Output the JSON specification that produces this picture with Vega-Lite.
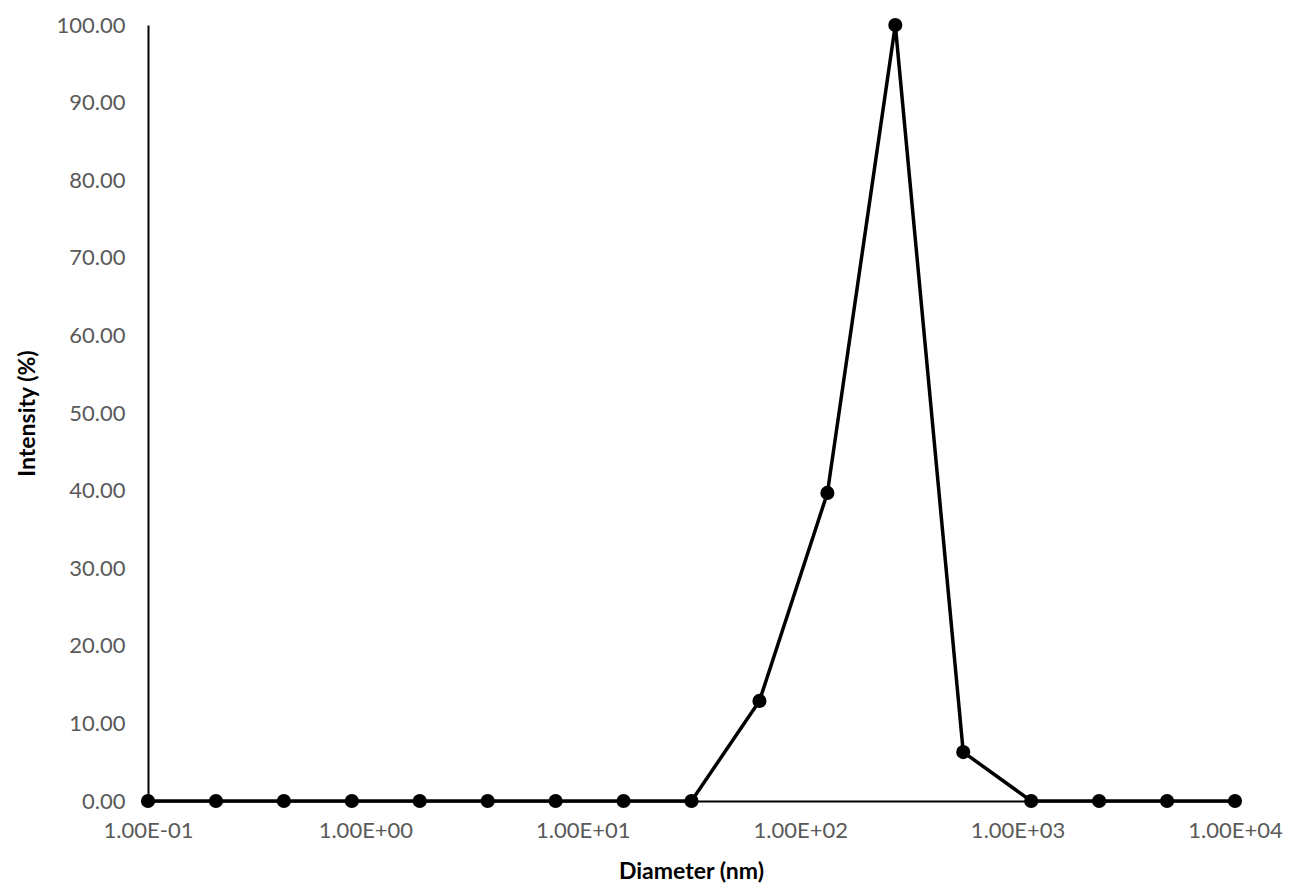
{
  "$schema": "https://vega.github.io/schema/vega-lite/v6.json",
  "autosize": {"type": "none"},
  "width": 1087,
  "height": 776,
  "padding": {"left": 148, "top": 25, "right": 55, "bottom": 94},
  "background": "white",
  "config": {
    "view": {"stroke": null},
    "font": "Lato"
  },
  "data": {
    "values": [
      {"diameter": 0.1, "intensity": 0},
      {"diameter": 0.2054, "intensity": 0},
      {"diameter": 0.4217, "intensity": 0},
      {"diameter": 0.866, "intensity": 0},
      {"diameter": 1.778, "intensity": 0},
      {"diameter": 3.652, "intensity": 0},
      {"diameter": 7.499, "intensity": 0},
      {"diameter": 15.4, "intensity": 0},
      {"diameter": 31.62, "intensity": 0},
      {"diameter": 64.94, "intensity": 12.9},
      {"diameter": 133.4, "intensity": 39.7},
      {"diameter": 273.8, "intensity": 100},
      {"diameter": 562.3, "intensity": 6.3},
      {"diameter": 1155, "intensity": 0},
      {"diameter": 2371, "intensity": 0},
      {"diameter": 4870, "intensity": 0},
      {"diameter": 10000, "intensity": 0}
    ]
  },
  "encoding": {
    "x": {
      "field": "diameter",
      "type": "quantitative",
      "scale": {"type": "log", "domain": [0.1, 10000], "nice": false},
      "axis": {
        "title": "Diameter (nm)",
        "values": [0.1, 1, 10, 100, 1000, 10000],
        "labelExpr": "'1.00E' + (round(log(datum.value)/LN10) < 0 ? '-' : '+') + '0' + abs(round(log(datum.value)/LN10))",
        "grid": false,
        "ticks": false,
        "domain": true,
        "domainColor": "black",
        "domainWidth": 2,
        "labelColor": "#595959",
        "labelFontSize": 22,
        "labelPadding": 19,
        "labelFlush": false,
        "titleFontSize": 23,
        "titleFontWeight": "bold",
        "titleColor": "black",
        "titleX": 543,
        "titleY": 70,
        "titleBaseline": "middle",
        "titleAlign": "center"
      }
    },
    "y": {
      "field": "intensity",
      "type": "quantitative",
      "scale": {"domain": [0, 100], "nice": false},
      "axis": {
        "title": "Intensity (%)",
        "values": [0, 10, 20, 30, 40, 50, 60, 70, 80, 90, 100],
        "format": ".2f",
        "grid": false,
        "ticks": false,
        "domain": true,
        "domainColor": "black",
        "domainWidth": 2,
        "labelColor": "#595959",
        "labelFontSize": 22,
        "labelPadding": 23,
        "titleFontSize": 23,
        "titleFontWeight": "bold",
        "titleColor": "black",
        "titleX": -121,
        "titleY": 388,
        "titleBaseline": "middle",
        "titleAlign": "center"
      }
    }
  },
  "layer": [
    {"mark": {"type": "line", "color": "black", "strokeWidth": 3.5}},
    {"mark": {"type": "point", "filled": true, "color": "black", "size": 200, "opacity": 1}}
  ]
}
